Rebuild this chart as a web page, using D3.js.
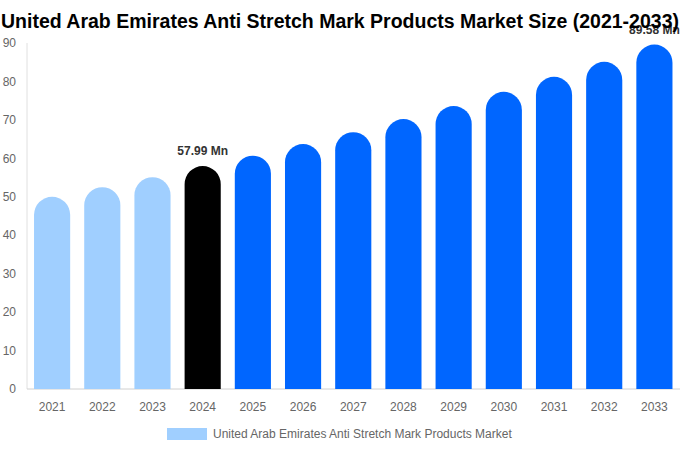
<!DOCTYPE html>
<html><head><meta charset="utf-8">
<script src="https://cdn.jsdelivr.net/npm/d3@7"></script>
<style>body{margin:0;background:#fff}svg{display:block;font-family:"Liberation Sans",Arial,sans-serif}</style>
</head><body><svg id="c" width="680" height="450"></svg>
<script>
const years = ["2021","2022","2023","2024","2025","2026","2027","2028","2029","2030","2031","2032","2033"];
const values = [50.0,52.5,55.1,57.99,60.7,63.7,66.8,70.2,73.6,77.3,81.2,85.1,89.58];
const yTicks = [0,10,20,30,40,50,60,70,80,90];
const labelled = {"2024":"57.99 Mn","2033":"89.58 Mn"};
const title = "United Arab Emirates Anti Stretch Mark Products Market Size (2021-2033)";
const legendLabel = "United Arab Emirates Anti Stretch Mark Products Market";

const svg = d3.select("#c");
const m = {l:27, r:0.5, t:43, b:61};
const W = 680, H = 450;
const x = d3.scaleBand().domain(years).range([m.l, W - m.r]).paddingInner(0.28).paddingOuter(0.14);
const y = d3.scaleLinear().domain([0,90]).range([H - m.b, m.t]);

function color(yr){
  const v = +yr;
  if (v < 2024) return "#a0cfff";
  if (v === 2024) return "#000000";
  return "#0066ff";
}

// axes
svg.append("line").attr("x1", m.l).attr("x2", m.l).attr("y1", y(90)).attr("y2", y(0)).attr("stroke","#e0e0e0");
svg.append("line").attr("x1", m.l).attr("x2", W).attr("y1", y(0)).attr("y2", y(0)).attr("stroke","#d0d0d0");

svg.append("g").selectAll("text").data(yTicks).join("text")
  .attr("x", 16).attr("y", d => y(d)).attr("dy","0.35em").attr("text-anchor","end")
  .attr("font-size",12).attr("fill","#666").text(d => d);

svg.append("g").selectAll("text").data(years).join("text")
  .attr("x", d => x(d) + x.bandwidth()/2).attr("y", y(0) + 22).attr("text-anchor","middle")
  .attr("font-size",12).attr("fill","#666").text(d => d);

// bars
const bw = x.bandwidth(), r = bw/2;
svg.append("g").selectAll("path").data(years).join("path")
  .attr("fill", d => color(d))
  .attr("d", (d,i) => {
    const x0 = x(d), top = y(values[i]), bot = y(0);
    return `M${x0},${bot} L${x0},${top + r} A${r},${r} 0 0 1 ${x0 + bw},${top + r} L${x0 + bw},${bot} Z`;
  });

// value labels
svg.append("g").selectAll("text").data(years.filter(d => labelled[d])).join("text")
  .attr("x", d => x(d) + bw/2).attr("y", d => y(values[years.indexOf(d)]) - 11)
  .attr("text-anchor","middle").attr("font-size",12).attr("font-weight","bold").attr("fill","#333")
  .text(d => labelled[d]);

// title
svg.append("text").attr("x", 1).attr("y", 28)
  .attr("textLength", 678).attr("lengthAdjust","spacingAndGlyphs")
  .attr("font-size",20).attr("font-weight","bold").attr("fill","#000").text(title);

// legend
svg.append("rect").attr("x",167).attr("y",428).attr("width",40).attr("height",12).attr("fill","#a0cfff");
svg.append("text").attr("x",213).attr("y",434).attr("dy","0.35em").attr("font-size",12).attr("fill","#666").text(legendLabel);
</script></body></html>
